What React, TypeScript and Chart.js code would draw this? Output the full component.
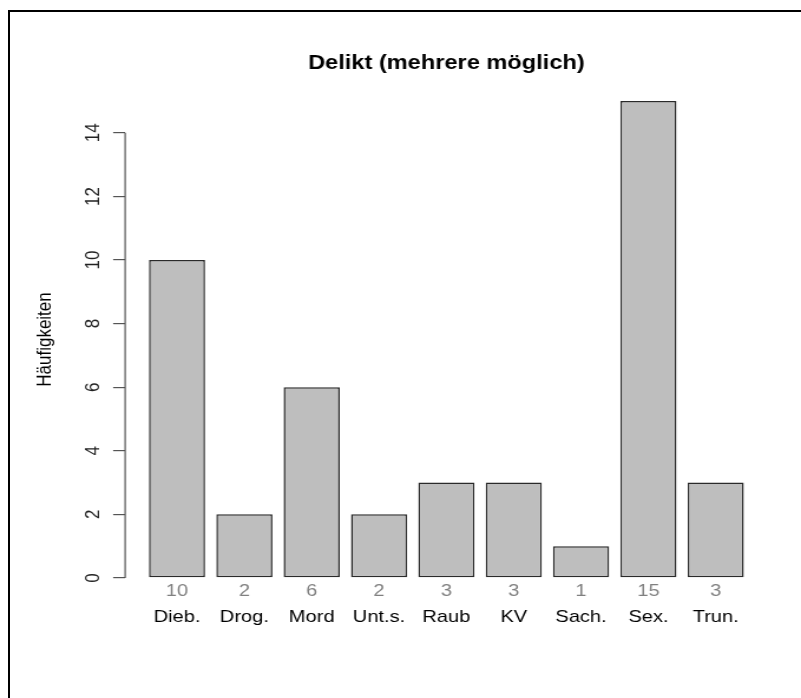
import React, { useEffect, useRef } from "react";
import { Chart, registerables } from "chart.js";

Chart.register(...registerables);

// ---- data ----
const categories = ["Dieb.", "Drog.", "Mord", "Unt.s.", "Raub", "KV", "Sach.", "Sex.", "Trun."];
const counts = [10, 2, 6, 2, 3, 3, 1, 15, 3];
const yTicks = [0, 2, 4, 6, 8, 10, 12, 14];
const chartTitle = "Delikt (mehrere möglich)";
const yTitle = "Häufigkeiten";

// ---- layout (R barplot geometry, horizontally stretched picture) ----
const STRETCH = 1.18;
const PAGE_W = 801;
const PAGE_H = 698;
const CW = Math.round(PAGE_W / STRETCH);
const CH = PAGE_H;
const SPACE = 0.2;
const SLOT = 1 + SPACE;
const centers = categories.map((_, i) => SPACE + 0.5 + SLOT * i);
const xLo = SPACE;
const xHi = SLOT * categories.length;
const xPad = (xHi - xLo) * 0.04;
const X_MIN = xLo - xPad;
const X_MAX = xHi + xPad;
const Y_MIN = -0.6;
const Y_MAX = 15.6;

const AREA_LEFT = 125.2 / STRETCH;
const AREA_RIGHT = 767.8 / STRETCH;

const FAMILY = "'Liberation Sans', Arial, Helvetica, sans-serif";
const font = { family: FAMILY, size: 17 };

const axisLinePlugin = {
  id: "rAxisLine",
  afterDraw(chart: any) {
    const y = chart.scales.y;
    const ctx = chart.ctx;
    const x0 = chart.chartArea.left;
    ctx.save();
    ctx.strokeStyle = "#555";
    ctx.lineWidth = 1.2;
    ctx.beginPath();
    ctx.moveTo(x0, y.getPixelForValue(yTicks[0]));
    ctx.lineTo(x0, y.getPixelForValue(yTicks[yTicks.length - 1]));
    ctx.stroke();
    ctx.restore();
  },
};

export default function App() {
  const ref = useRef<HTMLCanvasElement | null>(null);

  useEffect(() => {
    if (!ref.current) return;
    const chart = new Chart(ref.current, {
      type: "bar",
      data: {
        datasets: [
          {
            data: counts.map((v, i) => ({ x: centers[i], y: v })),
            backgroundColor: "#bebebe",
            borderColor: "#2a2a2a",
            borderWidth: 1.5,
            borderSkipped: false,
            categoryPercentage: 1 / SLOT,
            barPercentage: 1,
            xAxisID: "x",
            yAxisID: "y",
          },
        ],
      },
      options: {
        responsive: false,
        animation: false,
        events: [],
        layout: { padding: { left: 0, right: CW - AREA_RIGHT, top: 0, bottom: 61 } },
        plugins: {
          legend: { display: false },
          tooltip: { enabled: false },
          title: {
            display: true,
            text: chartTitle,
            fullSize: false,
            color: "#000",
            font: { family: FAMILY, size: 20, weight: "bold" },
            padding: { top: 51, bottom: 7 },
          },
        },
        scales: {
          x: {
            type: "linear",
            position: "bottom",
            offset: false,
            min: X_MIN,
            max: X_MAX,
            weight: 0,
            afterBuildTicks: (s: any) => {
              s.ticks = centers.map((v) => ({ value: v }));
            },
            afterFit: (s: any) => {
              s.height = 10;
            },
            grid: { display: false, drawTicks: false, offset: false },
            border: { display: false },
            ticks: {
              autoSkip: false,
              minRotation: 0,
              maxRotation: 0,
              mirror: true,
              padding: -5,
              color: "#808080",
              font,
              callback: (_v: any, i: number) => String(counts[i]),
            },
          },
          x2: {
            type: "linear",
            position: "bottom",
            offset: false,
            min: X_MIN,
            max: X_MAX,
            weight: 1,
            afterBuildTicks: (s: any) => {
              s.ticks = centers.map((v) => ({ value: v }));
            },
            afterFit: (s: any) => {
              s.height = 30;
            },
            grid: { display: false, drawTicks: false, offset: false },
            border: { display: false },
            ticks: {
              autoSkip: false,
              minRotation: 0,
              maxRotation: 0,
              padding: 0,
              color: "#000",
              font,
              callback: (_v: any, i: number) => categories[i],
            },
          },
          y: {
            type: "linear",
            position: "left",
            min: Y_MIN,
            max: Y_MAX,
            afterBuildTicks: (s: any) => {
              s.ticks = yTicks.map((v) => ({ value: v }));
            },
            afterFit: (s: any) => {
              s.width = AREA_LEFT;
            },
            grid: {
              drawOnChartArea: false,
              drawTicks: true,
              tickLength: 10.2,
              color: "#555",
              lineWidth: 1.2,
            },
            border: { display: false },
            ticks: {
              minRotation: 90,
              maxRotation: 90,
              crossAlign: "center",
              padding: 7,
              color: "#222",
              font,
              callback: (v: any) => String(v),
            },
            title: {
              display: true,
              text: yTitle,
              color: "#000",
              font,
              padding: { top: 28, bottom: 0 },
            },
          },
        },
      } as any,
      plugins: [axisLinePlugin],
    });
    return () => chart.destroy();
  }, []);

  return (
    <div style={{ position: "relative", width: PAGE_W, height: PAGE_H }}>
      <div
        style={{
          position: "fixed",
          left: 8,
          top: 10,
          width: PAGE_W - 8,
          height: PAGE_H - 10,
          boxSizing: "border-box",
          borderLeft: "2px solid #000",
          borderTop: "2px solid #000",
        }}
      />
      <canvas
        ref={ref}
        width={CW}
        height={CH}
        style={{ position: "fixed", left: 0, top: 0, width: PAGE_W + "px", height: PAGE_H + "px" }}
      />
    </div>
  );
}
